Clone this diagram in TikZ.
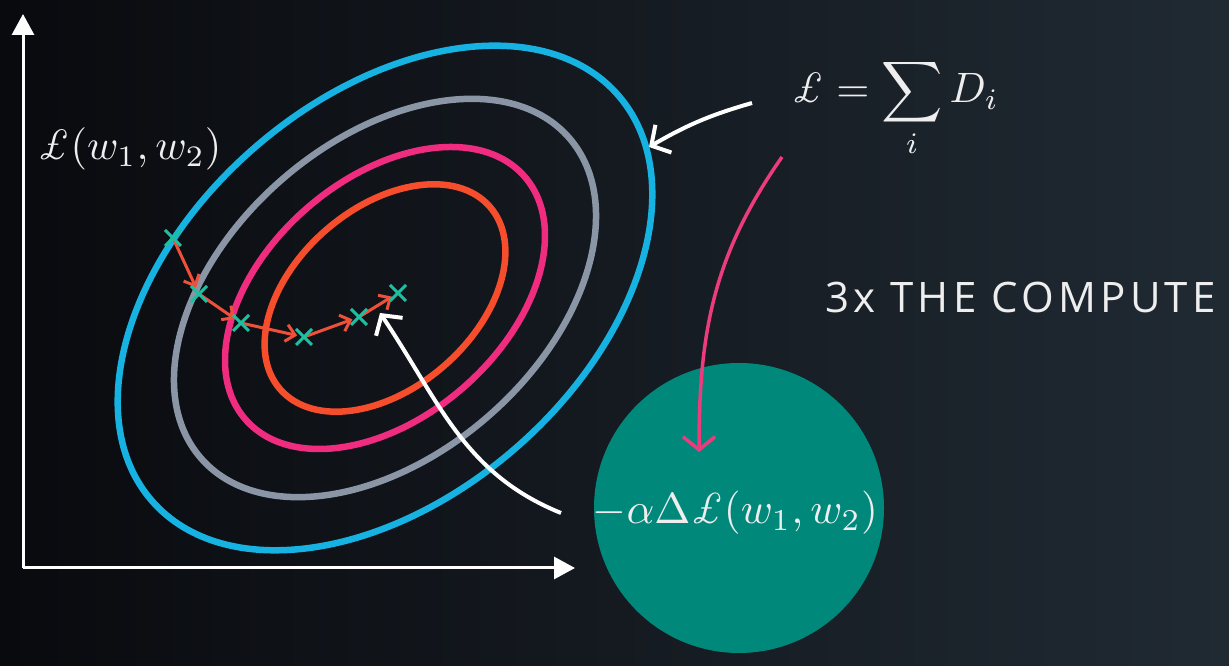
\documentclass[tikz,border=0pt]{standalone}
\usepackage{amsmath}
\usepackage{fontspec}
\newfontfamily\capsfont[LetterSpace=10]{Open Sans}
\usetikzlibrary{arrows.meta,shapes.misc}
\definecolor{bgL}{RGB}{9,10,14}
\definecolor{bgR}{RGB}{32,42,51}
\definecolor{blueC}{RGB}{22,178,226}
\definecolor{grayC}{RGB}{138,150,166}
\definecolor{pinkC}{RGB}{240,44,128}
\definecolor{orangeC}{RGB}{246,78,45}
\definecolor{stepC}{RGB}{238,80,58}
\definecolor{markC}{RGB}{30,190,160}
\definecolor{tealC}{RGB}{0,137,123}
\definecolor{arrowPink}{RGB}{236,60,125}
\definecolor{txtC}{RGB}{238,238,238}
\newcommand{\Lsym}{\text{\itshape\pounds}}
\begin{document}
\begin{tikzpicture}[x=1pt,y=1pt,
  axis/.style={draw=white, line width=3pt, -{Triangle[length=21pt,width=22pt]}},
  contour/.style={line width=6.5pt},
  stepArrow/.style={draw=stepC, line width=3pt, -{Straight Barb[length=9pt,width=17pt,line width=3pt]}, shorten >=7pt},
  xmark/.style={cross out, draw=markC, line width=3pt, minimum size=13pt, inner sep=0pt},
  mathlabel/.style={text=txtC, font=\fontsize{10}{12}\selectfont, inner sep=0pt, scale=4.25},
  callout/.style={draw=white, line width=4pt, -{Straight Barb[length=14pt,width=32pt,line width=4pt]}}
]
\useasboundingbox (0,0) rectangle (1229,666);
\shade[left color=bgL, right color=bgR] (0,0) rectangle (1229,666);

% axes
\coordinate (origin) at (23,98);
\coordinate (ytip) at (23,652);
\coordinate (xtip) at (575,98);
\draw[axis] (origin) -- (ytip);
\draw[axis] (origin) -- (xtip);

% contours
\coordinate (ctr) at (385,368);
\draw[contour, blueC, rotate around={41:(ctr)}] (ctr) ellipse [x radius=309pt, y radius=199pt];
\draw[contour, grayC, rotate around={41:(ctr)}] (ctr) ellipse [x radius=244pt, y radius=157pt];
\draw[contour, pinkC, rotate around={41:(ctr)}] (ctr) ellipse [x radius=185pt, y radius=119pt];
\draw[contour, orangeC, rotate around={41:(ctr)}] (ctr) ellipse [x radius=139pt, y radius=90pt];

% teal circle
\node[circle, fill=tealC, minimum size=290pt, inner sep=0pt] (batch) at (739,158) {};

% descent path
\coordinate (m1) at (173,428);
\coordinate (m2) at (199,372);
\coordinate (m3) at (241,343);
\coordinate (m4) at (304,329);
\coordinate (m5) at (359,349);
\coordinate (m6) at (398,373);
\draw[stepArrow] (m1) -- (m2);
\draw[stepArrow] (m2) -- (m3);
\draw[stepArrow] (m3) -- (m4);
\draw[stepArrow] (m4) -- (m5);
\draw[stepArrow] (m5) -- (m6);
\foreach \m in {m1,m2,m3,m4,m5,m6} \node[xmark] at (\m) {};

% labels
\node[mathlabel, anchor=base west] (lossL) at (37,506) {$\Lsym(w_1,w_2)$};
\node[mathlabel, anchor=base west] (sumF) at (791,563) {$\displaystyle \Lsym=\sum_i D_i$};
\node[mathlabel, scale=1.02, anchor=base west] (grad) at (592,142) {$-\alpha\Delta\Lsym(w_1,w_2)$};
\node[text=txtC, font=\capsfont\fontsize{42}{50}\selectfont, inner sep=0pt, anchor=base west] (compute) at (825,353) {3x THE COMPUTE};

% callout arrows
\coordinate (sumTail) at (752,563);
\coordinate (sumTip) at (649,519);
\draw[callout] (sumTail) to[out=196, in=30] (sumTip);
\coordinate (gradTail) at (561,153);
\coordinate (gradTip) at (380,353);
\draw[callout] (gradTail) to[out=158, in=-56] (gradTip);
\coordinate (pinkTail) at (782,509);
\coordinate (pinkTip) at (699,214);
\draw[draw=arrowPink, line width=3.5pt, -{Straight Barb[length=13pt,width=32pt,line width=3.5pt]}] (pinkTail) to[out=-125, in=90] (pinkTip);
\end{tikzpicture}
\end{document}
